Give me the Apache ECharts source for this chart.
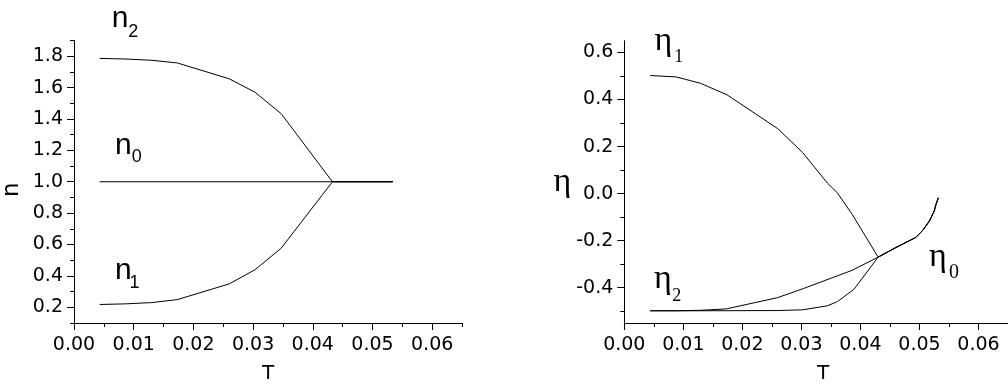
<!DOCTYPE html>
<html><head><meta charset="utf-8">
<script src="https://cdn.jsdelivr.net/npm/echarts@6/dist/echarts.min.js"></script>
<style>html,body{margin:0;padding:0;background:#fff}#c{width:1008px;height:389px}</style>
</head><body><div id="c"></div>
<script>
// ---- Left panel data (n vs T) ----
const nT  = [0.0043, 0.0087, 0.0130, 0.0173, 0.0260, 0.0303, 0.0347, 0.0433, 0.0534];
const n2  = [1.786, 1.782, 1.774, 1.757, 1.656, 1.571, 1.434, 1.000, 1.000];
const n1  = [0.218, 0.222, 0.230, 0.249, 0.349, 0.439, 0.576, 1.000, 1.000];
const n0T = [0.0043, 0.0534];
const n0  = [1.000, 1.000];

// ---- Right panel data (eta vs T) ----
const e1T = [0.0044, 0.0088, 0.0129, 0.0174, 0.0260, 0.0302, 0.0344, 0.0361, 0.0386, 0.0430];
const e1  = [0.502, 0.496, 0.469, 0.420, 0.276, 0.175, 0.045, 0.003, -0.088, -0.270];
const e2T = [0.0044, 0.0088, 0.0129, 0.0173, 0.0260, 0.0304, 0.0386, 0.0430];
const e2  = [-0.498, -0.498, -0.496, -0.490, -0.442, -0.403, -0.326, -0.270];
const e0T = [0.0044, 0.0129, 0.0260, 0.0302, 0.0344, 0.0361, 0.0389, 0.0430];
const e0  = [-0.498, -0.498, -0.497, -0.494, -0.477, -0.459, -0.407, -0.270];
const tailT = [0.0461, 0.0483, 0.0494, 0.0506, 0.0517, 0.0525, 0.0528, 0.0532];
const tail  = [-0.228, -0.200, -0.186, -0.155, -0.116, -0.074, -0.046, -0.018];

// ---- Tick values ----
const xMajor = [0, 0.01, 0.02, 0.03, 0.04, 0.05, 0.06];
const xMinor = [0.005, 0.015, 0.025, 0.035, 0.045, 0.055, 0.065];
const nMajor = [0.2, 0.4, 0.6, 0.8, 1.0, 1.2, 1.4, 1.6, 1.8];
const nMinor = [0.1, 0.3, 0.5, 0.7, 0.9, 1.1, 1.3, 1.5, 1.7, 1.9];
const eMajor = [-0.4, -0.2, 0.0, 0.2, 0.4, 0.6];
const eMinor = [-0.5, -0.3, -0.1, 0.1, 0.3, 0.5];

const zip = (xs, ys) => xs.map((x, i) => [x, ys[i]]);
const tickFont = { fontFamily: 'DejaVu Sans', fontSize: 19, color: '#000' };
const black = { color: '#000', width: 1 };

function xAxes(gi, namePad) {
  return [
    { type: 'value', gridIndex: gi, position: 'bottom', min: 0, max: 0.065,
      name: 'T', nameLocation: 'middle', nameGap: 41,
      nameTextStyle: { fontFamily: 'DejaVu Sans', fontSize: 20, color: '#000', padding: namePad },
      axisLine: { show: true, onZero: false, lineStyle: black },
      axisTick: { show: true, length: 7, lineStyle: black, customValues: xMajor },
      axisLabel: { ...tickFont, margin: 13, customValues: xMajor, formatter: v => v.toFixed(2) },
      splitLine: { show: false } },
    { type: 'value', gridIndex: gi, position: 'bottom', min: 0, max: 0.065,
      axisLine: { show: false, onZero: false },
      axisTick: { show: true, length: 4, lineStyle: black, customValues: xMinor },
      axisLabel: { show: false }, splitLine: { show: false } }
  ];
}
function yAxes(gi, min, max, major, minor, name, nameOpts) {
  return [
    { type: 'value', gridIndex: gi, position: 'left', min, max,
      name, nameLocation: 'middle', ...nameOpts,
      axisLine: { show: true, onZero: false, lineStyle: black },
      axisTick: { show: true, length: 7, lineStyle: black, customValues: major },
      axisLabel: { ...tickFont, margin: 11, customValues: major, formatter: v => v.toFixed(1) },
      splitLine: { show: false } },
    { type: 'value', gridIndex: gi, position: 'left', min, max,
      axisLine: { show: false, onZero: false },
      axisTick: { show: true, length: 4, lineStyle: black, customValues: minor },
      axisLabel: { show: false }, splitLine: { show: false } }
  ];
}

const line = (xi, yi, data, name) => ({
  type: 'line', name, xAxisIndex: xi, yAxisIndex: yi, data,
  showSymbol: false, symbol: 'none', lineStyle: black, itemStyle: { color: '#000' },
  animation: false, silent: true
});

const sans = (sz) => `${sz}px "Liberation Sans", Arial, sans-serif`;
const serif = (sz) => `${sz}px "Liberation Serif", "Times New Roman", serif`;
function txt(x, y, text, font) {
  return { type: 'text', x, y, silent: true,
    style: { text, font, fill: '#000', align: 'center', verticalAlign: 'middle',
             textAlign: 'center', textVerticalAlign: 'middle' } };
}

const chart = echarts.init(document.getElementById('c'), null, { renderer: 'canvas' });
chart.setOption({
  animation: false,
  backgroundColor: '#fff',
  grid: [
    { left: 74, top: 40.5, width: 388, height: 284.5 },
    { left: 624.3, top: 40.7, width: 388.7, height: 285.3 }
  ],
  xAxis: [...xAxes(0, [0, 0, 0, 0]), ...xAxes(1, [0, 0, 0, 14])],
  yAxis: [
    ...yAxes(0, 0.1, 1.9, nMajor, nMinor, 'n',
      { nameGap: 50, nameTextStyle: { fontFamily: 'DejaVu Sans', fontSize: 23, color: '#000', padding: [0, 16, 0, 0] } }),
    ...yAxes(1, -0.55, 0.65, eMajor, eMinor, 'η',
      { nameGap: 52, nameRotate: 0,
        nameTextStyle: { fontFamily: 'Liberation Serif', fontSize: 34, color: '#000', padding: [0, 0, 14, 0] } })
  ],
  series: [
    line(0, 0, zip(nT, n2), 'n2'),
    line(0, 0, zip(nT, n1), 'n1'),
    line(0, 0, zip(n0T, n0), 'n0'),
    line(2, 2, zip(e1T.concat(tailT), e1.concat(tail)), 'η1'),
    line(2, 2, zip(e2T.concat(tailT), e2.concat(tail)), 'η2'),
    line(2, 2, zip(e0T.concat(tailT), e0.concat(tail)), 'η0')
  ],
  graphic: [
    txt(120, 18.5, 'n', sans(30)), txt(133.3, 32, '2', sans(18)),
    txt(123.3, 145.3, 'n', sans(30)), txt(136.7, 157.5, '0', sans(18)),
    txt(123.3, 270.8, 'n', sans(30)), txt(134.5, 283.5, '1', sans(18)),
    txt(663.3, 41, 'η', serif(34)), txt(678.8, 57.5, '1', serif(18)),
    txt(663, 279, 'η', serif(34)), txt(676.7, 295.8, '2', serif(18)),
    txt(938, 257.5, 'η', serif(34)), txt(954, 272.5, '0', serif(20))
  ]
});
</script></body></html>
